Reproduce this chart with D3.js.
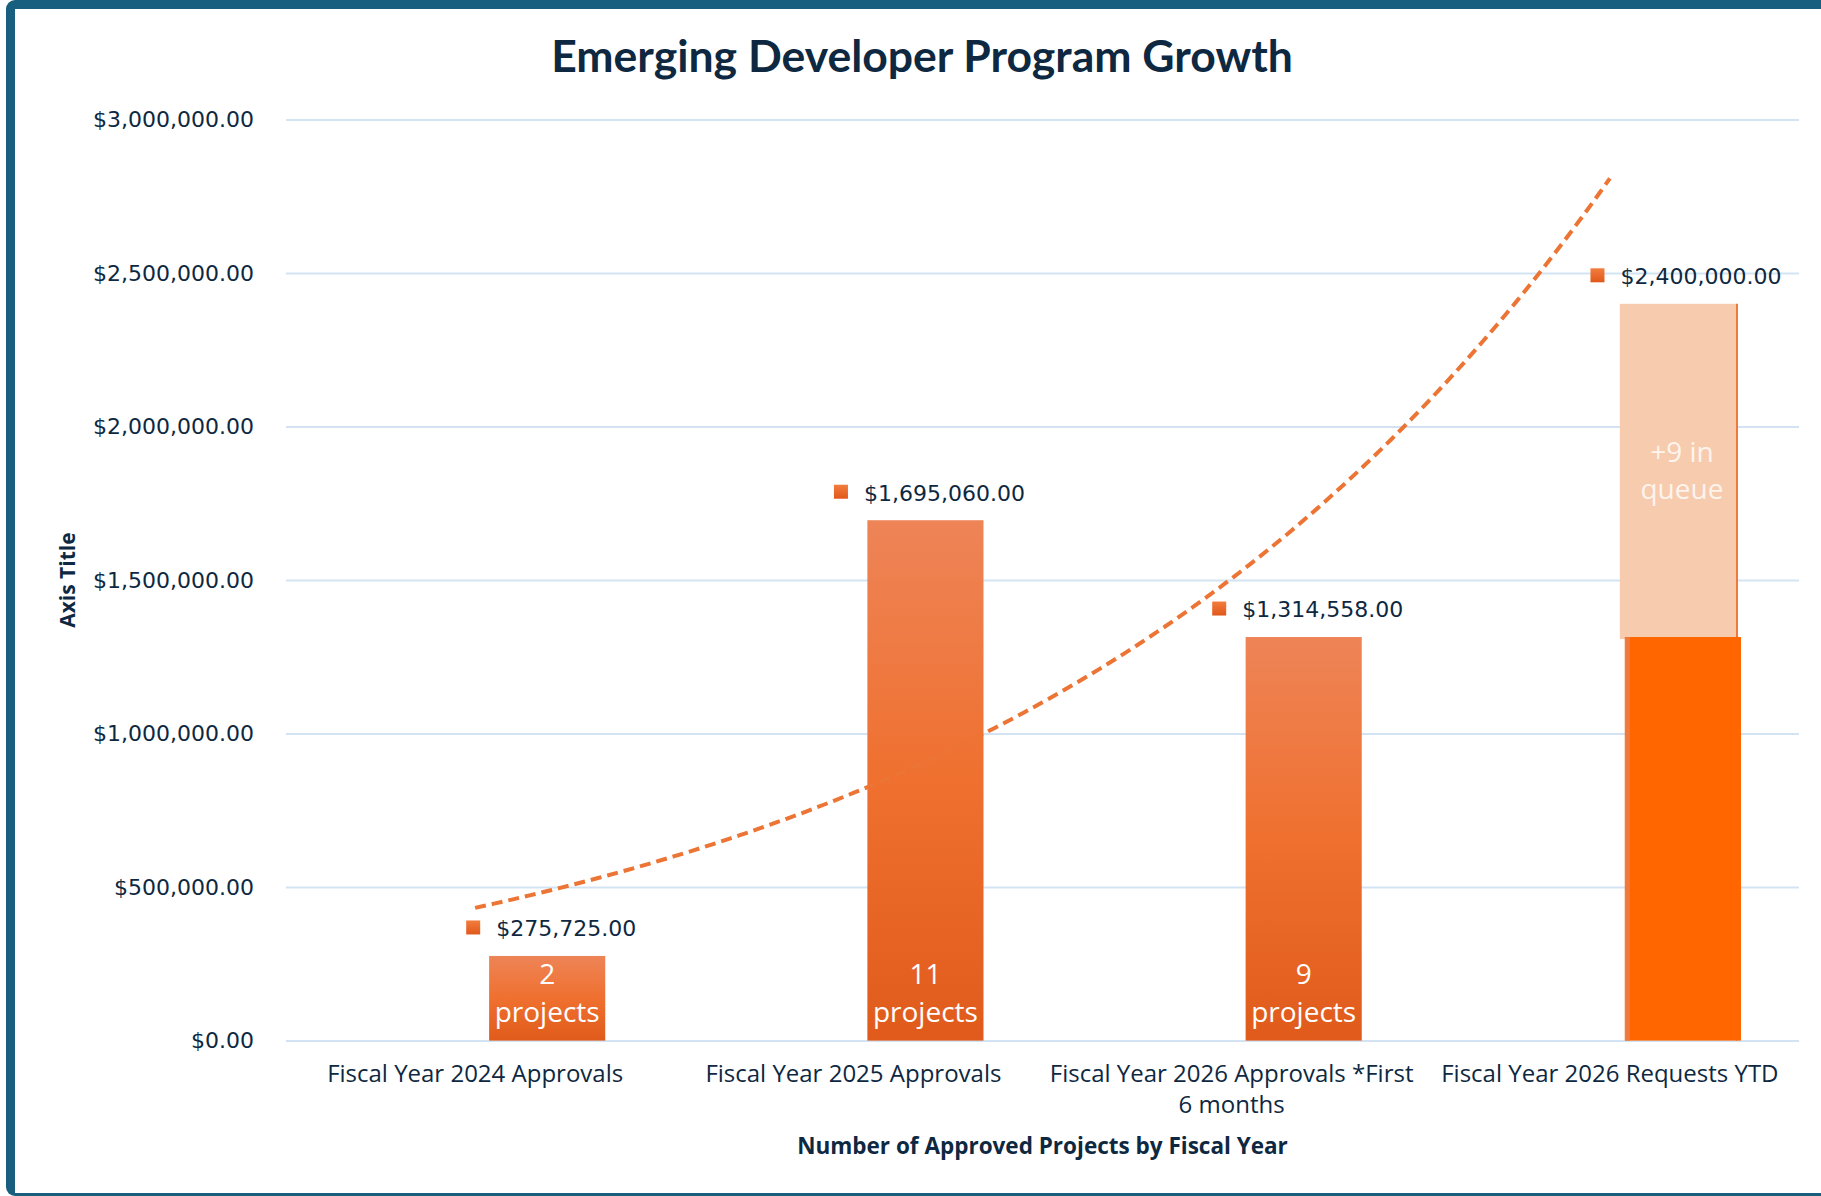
<!DOCTYPE html>
<html>
<head>
<meta charset="utf-8">
<script src="https://cdn.jsdelivr.net/npm/d3@7"></script>
<style>
  html, body { margin: 0; padding: 0; background: #ffffff; }
  svg { display: block; }
</style>
</head>
<body>
<svg id="chart" width="1821" height="1196"></svg>
<script>
// ---- data ----
const categories = [
  "Fiscal Year 2024 Approvals",
  "Fiscal Year 2025 Approvals",
  "Fiscal Year 2026 Approvals *First 6 months",
  "Fiscal Year 2026 Requests YTD"
];
const approvedValues = [275725, 1695060, 1314558, 1314558];
const totalValues = [275725, 1695060, 1314558, 2400000];
const barTextLines = [["2", "projects"], ["11", "projects"], ["9", "projects"], ["+9 in", "queue"]];
const yTickValues = [0, 500000, 1000000, 1500000, 2000000, 2500000, 3000000];
const titleText = "Emerging Developer Program Growth";
const xAxisTitle = "Number of Approved Projects by Fiscal Year";
const yAxisTitle = "Axis Title";

// ---- layout ----
const W = 1821, H = 1196;
const plot = { left: 286, right: 1799, top: 119.6, bottom: 1040.6 };
const navy = "#0e2841";
const borderColor = "#175e7f";

const svg = d3.select("#chart");

// frame
svg.append("rect").attr("x", 6).attr("y", 0).attr("width", W + 20).attr("height", H)
  .attr("rx", 9).attr("fill", borderColor);
svg.append("rect").attr("x", 15).attr("y", 9).attr("width", W + 20).attr("height", H - 12)
  .attr("fill", "#ffffff");

// gradients
const defs = svg.append("defs");
const g1 = defs.append("linearGradient").attr("id", "barGrad").attr("x1", 0).attr("y1", 0).attr("x2", 0).attr("y2", 1);
g1.append("stop").attr("offset", "0%").attr("stop-color", "#ee8457");
g1.append("stop").attr("offset", "50%").attr("stop-color", "#ef702f");
g1.append("stop").attr("offset", "100%").attr("stop-color", "#e05b1b");
const g2 = defs.append("linearGradient").attr("id", "markGrad").attr("x1", 0).attr("y1", 0).attr("x2", 0).attr("y2", 1);
g2.append("stop").attr("offset", "0%").attr("stop-color", "#f27d3e");
g2.append("stop").attr("offset", "100%").attr("stop-color", "#e0581a");

// scales
const x = d3.scaleBand().domain(categories).range([plot.left, plot.right]).padding(0);
const bw = x.bandwidth();
const inner = d3.scaleBand().domain(["label", "bar"]).range([bw * 0.23, bw * 0.844]).padding(0);
const y = d3.scaleLinear().domain([0, 3000000]).range([plot.bottom, plot.top]);

// title
svg.append("text")
  .attr("x", 922).attr("y", 72)
  .attr("text-anchor", "middle")
  .attr("font-family", "Lato, 'Open Sans', sans-serif")
  .attr("font-weight", 700)
  .attr("font-size", 44.5)
  .attr("fill", navy)
  .text(titleText);

// y axis with gridlines
const yAxis = d3.axisLeft(y)
  .tickValues(yTickValues)
  .tickFormat(d3.format("$,.2f"))
  .tickSize(-(plot.right - plot.left))
  .tickPadding(32);
const yg = svg.append("g").attr("transform", `translate(${plot.left},0)`).call(yAxis);
yg.select(".domain").remove();
yg.selectAll(".tick line").attr("stroke", "#d3e3f3").attr("stroke-width", 2);
yg.selectAll(".tick text")
  .attr("font-family", "'DejaVu Sans', sans-serif")
  .attr("font-size", 22)
  .attr("fill", navy);

// x axis (category labels)
const xAxis = d3.axisBottom(x).tickSize(0).tickPadding(0).tickFormat(d => d);
const xg = svg.append("g").attr("transform", `translate(0,${plot.bottom})`).call(xAxis);
xg.select(".domain").remove();
xg.selectAll(".tick text")
  .attr("font-family", "'Open Sans', sans-serif")
  .attr("font-size", 24)
  .attr("fill", navy)
  .attr("y", 41)
  .attr("dy", 0)
  .each(function(d) {
    const t = d3.select(this);
    const words = d.split(" ");
    t.text(null);
    let line = [];
    let lines = [];
    const tmp = t.append("tspan");
    words.forEach(w => {
      line.push(w);
      tmp.text(line.join(" "));
      if (tmp.node().getComputedTextLength() > bw - 4 && line.length > 1) {
        line.pop();
        lines.push(line.join(" "));
        line = [w];
      }
    });
    lines.push(line.join(" "));
    tmp.remove();
    lines.forEach((ln, i) => {
      t.append("tspan").attr("x", 0).attr("y", 41 + i * 31.5).text(ln);
    });
  });

// bars
const data = categories.map((c, i) => ({
  cat: c, approved: approvedValues[i], total: totalValues[i], lines: barTextLines[i]
}));
const barsG = svg.append("g");

data.forEach(d => {
  const x0 = x(d.cat) + inner("bar");
  const w = inner.bandwidth();
  if (d.total > d.approved) {
    barsG.append("rect")
      .attr("x", x0 - 4).attr("y", y(d.total))
      .attr("width", w).attr("height", y(d.approved) - y(d.total) + 2)
      .attr("fill", "#f7cbad");
    barsG.append("line")
      .attr("x1", x0 - 4 + w + 1).attr("x2", x0 - 4 + w + 1)
      .attr("y1", y(d.total)).attr("y2", y(0))
      .attr("stroke", "#f0783a").attr("stroke-width", 2);
    barsG.append("rect")
      .attr("x", x0 + 1).attr("y", y(d.approved))
      .attr("width", w).attr("height", y(0) - y(d.approved))
      .attr("fill", "#ff6600");
    barsG.append("rect")
      .attr("x", x0 + 1).attr("y", y(d.approved))
      .attr("width", 5).attr("height", y(0) - y(d.approved))
      .attr("fill", "#f07a3c");
  } else {
    barsG.append("rect")
      .attr("x", x0).attr("y", y(d.approved))
      .attr("width", w).attr("height", y(0) - y(d.approved))
      .attr("fill", "url(#barGrad)");
  }

  const cx = x0 + w / 2;
  let ys;
  if (d.total > d.approved) {
    const mid = (y(d.total) + y(d.approved)) / 2;
    ys = [mid - 18.5, mid + 18.5];
  } else {
    ys = [y(0) - 67, y(0) - 29];
  }
  d.lines.forEach((ln, i) => {
    barsG.append("text")
      .attr("x", cx).attr("y", ys[i])
      .attr("dy", "0.36em")
      .attr("text-anchor", "middle")
      .attr("font-family", "'Open Sans', sans-serif")
      .attr("font-size", 28)
      .attr("fill", d.total > d.approved ? "#fdf4ee" : "#ffffff")
      .text(ln);
  });

  // data label with legend key
  const lg = svg.append("g");
  const lblText = lg.append("text")
    .attr("font-family", "'DejaVu Sans', sans-serif")
    .attr("font-size", 22)
    .attr("fill", navy)
    .attr("dy", "0.36em")
    .text(d3.format("$,.2f")(d.total));
  const tw = lblText.node().getComputedTextLength();
  const keySize = 14, gap = 16;
  const groupW = keySize + gap + tw;
  const gx = cx + 4 - groupW / 2;
  const gy = y(d.total) - 27.5;
  lg.append("rect")
    .attr("x", gx).attr("y", gy - keySize / 2 - 1)
    .attr("width", keySize).attr("height", keySize)
    .attr("fill", "url(#markGrad)");
  lblText.attr("x", gx + keySize + gap).attr("y", gy);
});

// exponential trendline fitted to totals
const n = totalValues.length;
const xs = d3.range(1, n + 1);
const lys = totalValues.map(v => Math.log(v));
const mx = d3.mean(xs), my = d3.mean(lys);
const b = d3.sum(xs.map((xv, i) => (xv - mx) * (lys[i] - my))) / d3.sum(xs.map(xv => (xv - mx) ** 2));
const a = my - b * mx;
const xPos = d3.scaleLinear().domain([1, n]).range([x(categories[0]) + bw / 2, x(categories[n - 1]) + bw / 2]);
const trendPts = d3.range(0, 121).map(k => 1 + (n - 1) * k / 120).map(t => [xPos(t), y(Math.exp(a + b * t))]);
svg.append("path")
  .attr("d", d3.line()(trendPts))
  .attr("fill", "none")
  .attr("stroke", "#ec7434")
  .attr("stroke-width", 4)
  .attr("stroke-dasharray", "11,6");

// axis titles
svg.append("text")
  .attr("x", (plot.left + plot.right) / 2).attr("y", 1146)
  .attr("dy", "0.36em")
  .attr("text-anchor", "middle")
  .attr("font-family", "'Open Sans', sans-serif")
  .attr("font-weight", 700)
  .attr("font-size", 22.5)
  .attr("fill", navy)
  .text(xAxisTitle);
svg.append("text")
  .attr("transform", `translate(67,${(plot.top + plot.bottom) / 2}) rotate(-90)`)
  .attr("dy", "0.36em")
  .attr("text-anchor", "middle")
  .attr("font-family", "'Open Sans', sans-serif")
  .attr("font-weight", 700)
  .attr("font-size", 21)
  .attr("fill", navy)
  .text(yAxisTitle);
</script>
</body>
</html>
